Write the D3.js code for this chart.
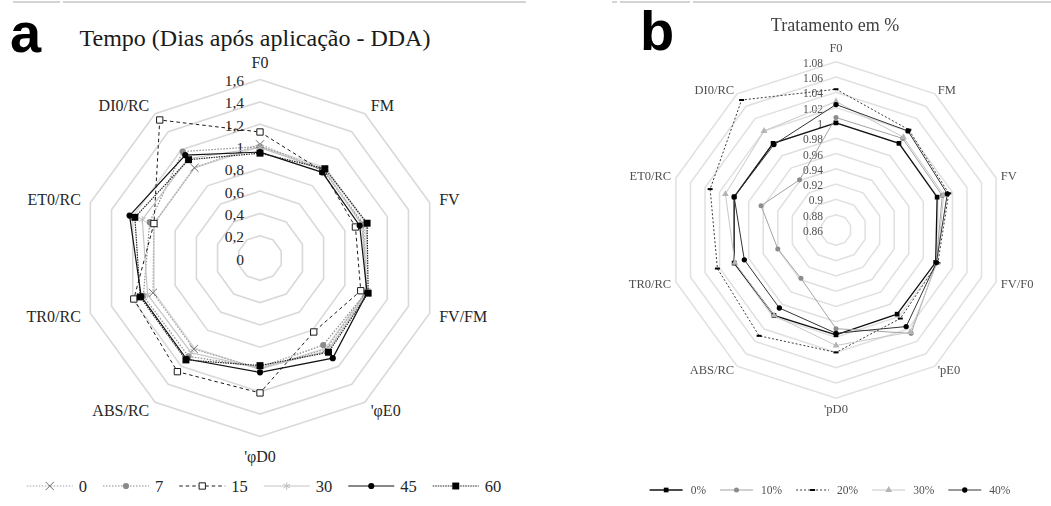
<!DOCTYPE html>
<html>
<head>
<meta charset="utf-8">
<script src="https://cdn.jsdelivr.net/npm/d3@7"></script>
<style>
  body { margin: 0; background: #fff; }
  svg { display: block; }
</style>
</head>
<body>
<svg id="fig" width="1051" height="506"></svg>
<script>
// ---------- Panel a: time after application (days) ----------
const axesA = ["F0", "FM", "FV", "FV/FM", "'φE0", "'φD0", "ABS/RC", "TR0/RC", "ET0/RC", "DI0/RC"];
const ticksA = [0, 0.2, 0.4, 0.6, 0.8, 1, 1.2, 1.4, 1.6];
const ticksLabelA = ["0", "0,2", "0,4", "0,6", "0,8", "1", "1,2", "1,4", "1,6"];
const namesA = ["0", "7", "15", "30", "45", "60"];
const dda0  = [1.02, 0.97, 0.98, 1.00, 1.01, 0.99, 1.01, 1.01, 1.00, 1.00];
const dda7  = [1.00, 0.97, 0.97, 1.00, 0.965, 0.98, 1.09, 1.10, 1.04, 1.18];
const dda15 = [1.13, 0.96, 0.90, 0.95, 0.82, 1.21, 1.26, 1.19, 1.00, 1.53];
const dda30 = [0.99, 0.98, 0.96, 1.01, 1.03, 0.99, 1.05, 1.06, 1.11, 1.10];
const dda45 = [0.95, 0.95, 0.94, 1.01, 1.11, 1.025, 1.12, 1.12, 1.23, 1.14];
const dda60 = [0.94, 0.99, 1.01, 1.02, 1.045, 0.965, 1.13, 1.13, 1.18, 1.09];

// ---------- Panel b: treatment (%) ----------
const axesB = ["F0", "FM", "FV", "FV/F0", "'pE0", "'pD0", "ABS/RC", "TR0/RC", "ET0/RC", "DI0/RC"];
const ticksB = [0.86, 0.88, 0.90, 0.92, 0.94, 0.96, 0.98, 1.00, 1.02, 1.04, 1.06, 1.08];
const ticksLabelB = ["0.86", "0.88", "0.9", "0.92", "0.94", "0.96", "0.98", "1", "1.02", "1.04", "1.06", "1.08"];
const namesB = ["0%", "10%", "20%", "30%", "40%"];
const pct0  = [1.000, 1.000, 0.999, 0.997, 0.996, 0.997, 0.998, 1.000, 1.000, 1.000];
const pct10 = [1.007, 1.008, 1.006, 0.998, 1.027, 0.989, 0.938, 0.940, 0.963, 0.941];
const pct20 = [1.044, 1.022, 1.015, 1.000, 1.003, 1.020, 1.031, 1.023, 1.033, 1.070];
const pct30 = [1.028, 1.010, 1.008, 0.999, 1.025, 1.011, 0.998, 0.999, 1.012, 1.020];
const pct40 = [1.024, 1.020, 1.013, 0.998, 1.016, 0.995, 0.986, 0.986, 1.000, 0.998];

const svg = d3.select("#fig");
const serif = "'Liberation Serif', 'Times New Roman', serif";

// thin rules along the top edge
[[13, 60], [63, 526], [612, 617], [620, 690], [693, 1051]].forEach(([x1, x2]) =>
  svg.append("line").attr("x1", x1).attr("x2", x2).attr("y1", 2).attr("y2", 2)
    .attr("stroke", "#d4d4d4").attr("stroke-width", 2));

// marker drawing helper
function drawMarker(g, kind, x, y, st) {
  if (kind === "dash") {
    g.append("rect").attr("x", x - st.size / 2).attr("y", y - 1).attr("width", st.size).attr("height", 2)
      .attr("fill", st.fill);
    return;
  }
  const types = { times: d3.symbolTimes, circle: d3.symbolCircle, square: d3.symbolSquare,
                  asterisk: d3.symbolAsterisk, triangle: d3.symbolTriangle };
  g.append("path")
    .attr("transform", `translate(${x},${y})`)
    .attr("d", d3.symbol().type(types[kind]).size(st.size)())
    .attr("fill", st.fill)
    .attr("stroke", st.stroke || "none")
    .attr("stroke-width", st.sw || 1);
}

function radar(g, o) {
  const n = o.axes.length;
  const ang = i => i * 2 * Math.PI / n;
  const r = d3.scaleLinear().domain([o.ticks[0], o.ticks[o.ticks.length - 1]]).range([0, o.R]);
  const pt = (i, v) => [o.cx + r(v) * Math.sin(ang(i)), o.cy - r(v) * Math.cos(ang(i))];

  // grid rings
  o.ticks.slice(1).forEach(t => {
    g.append("polygon")
      .attr("points", d3.range(n).map(i => pt(i, t).join(",")).join(" "))
      .attr("fill", "none").attr("stroke", o.gridColor).attr("stroke-width", o.gridWidth);
  });

  // value labels on the vertical axis
  o.ticks.forEach((t, k) => {
    g.append("text")
      .attr("x", o.cx + o.tickDx).attr("y", o.cy - r(t) + o.tickDy)
      .attr("text-anchor", "end").attr("dominant-baseline", "central")
      .attr("font-family", serif).attr("font-size", o.tickSize).attr("fill", o.textColor)
      .text(o.tickLabels[k]);
  });

  // category labels
  o.axes.forEach((a, i) => {
    const s = Math.sin(ang(i)), c = Math.cos(ang(i));
    const rr = o.R + o.labelGap;
    let x = o.cx + rr * s, y = o.cy - rr * c;
    if (c > 0.99) y += o.topShift;
    if (c < -0.99) y += o.bottomShift;
    const anchor = s > 0.1 ? "start" : s < -0.1 ? "end" : "middle";
    g.append("text").attr("x", x).attr("y", y)
      .attr("text-anchor", anchor).attr("dominant-baseline", "central")
      .attr("font-family", serif).attr("font-size", o.labelSize).attr("fill", o.textColor)
      .text(a);
  });

  // series
  const line = d3.lineRadial().angle((d, i) => ang(i)).radius(d => r(d)).curve(d3.curveLinearClosed);
  o.series.forEach(s => {
    g.append("path")
      .attr("transform", `translate(${o.cx},${o.cy})`)
      .attr("d", line(s.values))
      .attr("fill", "none").attr("stroke", s.color).attr("stroke-width", s.width)
      .attr("stroke-dasharray", s.dash || null);
  });
  o.series.forEach(s => {
    s.values.forEach((v, i) => {
      const [x, y] = pt(i, v);
      drawMarker(g, s.marker, x, y, s.mk);
    });
  });
}

function legend(g, o) {
  const items = g.selectAll("g.item").data(o.series).join("g").attr("class", "item");
  let widths = [];
  items.each(function (s) {
    const it = d3.select(this);
    it.append("line").attr("x1", 0).attr("x2", o.lineLen).attr("y1", 0).attr("y2", 0)
      .attr("stroke", s.color).attr("stroke-width", s.width).attr("stroke-dasharray", s.dash || null);
    drawMarker(it, s.marker, o.lineLen / 2, 0, s.mk);
    const t = it.append("text").attr("x", o.lineLen + o.textGap).attr("y", 0)
      .attr("dominant-baseline", "central")
      .attr("font-family", serif).attr("font-size", o.size).attr("fill", o.textColor)
      .text(s.name);
    widths.push(o.lineLen + o.textGap + t.node().getComputedTextLength());
  });
  const total = d3.sum(widths) + o.spacing * (widths.length - 1);
  let x = o.cx - total / 2;
  items.each(function (s, i) {
    d3.select(this).attr("transform", `translate(${x},${o.y})`);
    x += widths[i] + o.spacing;
  });
}

// ---------- panel a ----------
const seriesA = [
  { name: namesA[0], values: dda0,  color: "#a6a6a6", width: 1.2, dash: "1.5,1.5", marker: "times",
    mk: { size: 45, fill: "none", stroke: "#6e6e6e", sw: 1 } },
  { name: namesA[1], values: dda7,  color: "#8c8c8c", width: 1.2, dash: "1.5,1.5", marker: "circle",
    mk: { size: 30, fill: "#8a8a8a" } },
  { name: namesA[2], values: dda15, color: "#1a1a1a", width: 1, dash: "3.5,3", marker: "square",
    mk: { size: 40, fill: "#fff", stroke: "#1a1a1a", sw: 1 } },
  { name: namesA[3], values: dda30, color: "#c4c4c4", width: 1.2, marker: "asterisk",
    mk: { size: 40, fill: "none", stroke: "#bdbdbd", sw: 1 } },
  { name: namesA[4], values: dda45, color: "#111", width: 1.2, marker: "circle",
    mk: { size: 30, fill: "#000" } },
  { name: namesA[5], values: dda60, color: "#222", width: 1.2, dash: "1.5,1", marker: "square",
    mk: { size: 48, fill: "#000" } }
];

const gA = svg.append("g");
radar(gA, {
  cx: 260, cy: 258, R: 178.4, axes: axesA, ticks: ticksA, tickLabels: ticksLabelA,
  tickDx: -16, tickDy: 1, tickSize: 15.5, labelSize: 16, labelGap: 10, topShift: -7, bottomShift: 10,
  gridColor: "#d9d9d9", gridWidth: 1.6, textColor: "#262626", series: seriesA
});
gA.append("text").attr("x", 10).attr("y", 52)
  .attr("font-family", "'Liberation Sans', Arial, sans-serif").attr("font-weight", "bold")
  .attr("font-size", 56).attr("fill", "#000").text("a");
gA.append("text").attr("x", 255).attr("y", 46).attr("text-anchor", "middle")
  .attr("font-family", serif).attr("font-size", 24).attr("fill", "#1a1a1a")
  .text("Tempo (Dias após aplicação - DDA)");
legend(gA.append("g"), { series: seriesA, cx: 264, y: 486, lineLen: 46, textGap: 6, spacing: 16,
  size: 16.5, textColor: "#262626" });

// ---------- panel b ----------
const seriesB = [
  { name: namesB[0], values: pct0,  color: "#111", width: 1.3, marker: "square",
    mk: { size: 22, fill: "#000" } },
  { name: namesB[1], values: pct10, color: "#a3a3a3", width: 1, marker: "circle",
    mk: { size: 20, fill: "#8c8c8c" } },
  { name: namesB[2], values: pct20, color: "#3a3a3a", width: 1, dash: "2,2", marker: "dash",
    mk: { size: 5, fill: "#000" } },
  { name: namesB[3], values: pct30, color: "#c8c8c8", width: 1, marker: "triangle",
    mk: { size: 20, fill: "#b5b5b5" } },
  { name: namesB[4], values: pct40, color: "#333", width: 1, marker: "circle",
    mk: { size: 22, fill: "#000" } }
];

const defs = svg.append("defs");
defs.append("filter").attr("id", "soft").append("feGaussianBlur").attr("stdDeviation", 0.4);

const gB = svg.append("g").attr("filter", "url(#soft)");
radar(gB, {
  cx: 836, cy: 230, R: 168.3, axes: axesB, ticks: ticksB, tickLabels: ticksLabelB,
  tickDx: -13, tickDy: 1, tickSize: 11.5, labelSize: 12.5, labelGap: 5, topShift: -9, bottomShift: 6,
  gridColor: "#e0e0e0", gridWidth: 1.5, textColor: "#505050", series: seriesB
});
gB.append("text").attr("x", 835).attr("y", 31).attr("text-anchor", "middle")
  .attr("font-family", serif).attr("font-size", 18).attr("fill", "#404040")
  .text("Tratamento em %");
legend(gB.append("g"), { series: seriesB, cx: 830, y: 490, lineLen: 33, textGap: 8, spacing: 14,
  size: 11.5, textColor: "#505050" });
svg.append("text").attr("x", 640).attr("y", 50)
  .attr("font-family", "'Liberation Sans', Arial, sans-serif").attr("font-weight", "bold")
  .attr("font-size", 56).attr("fill", "#000").text("b");
</script>
</body>
</html>
